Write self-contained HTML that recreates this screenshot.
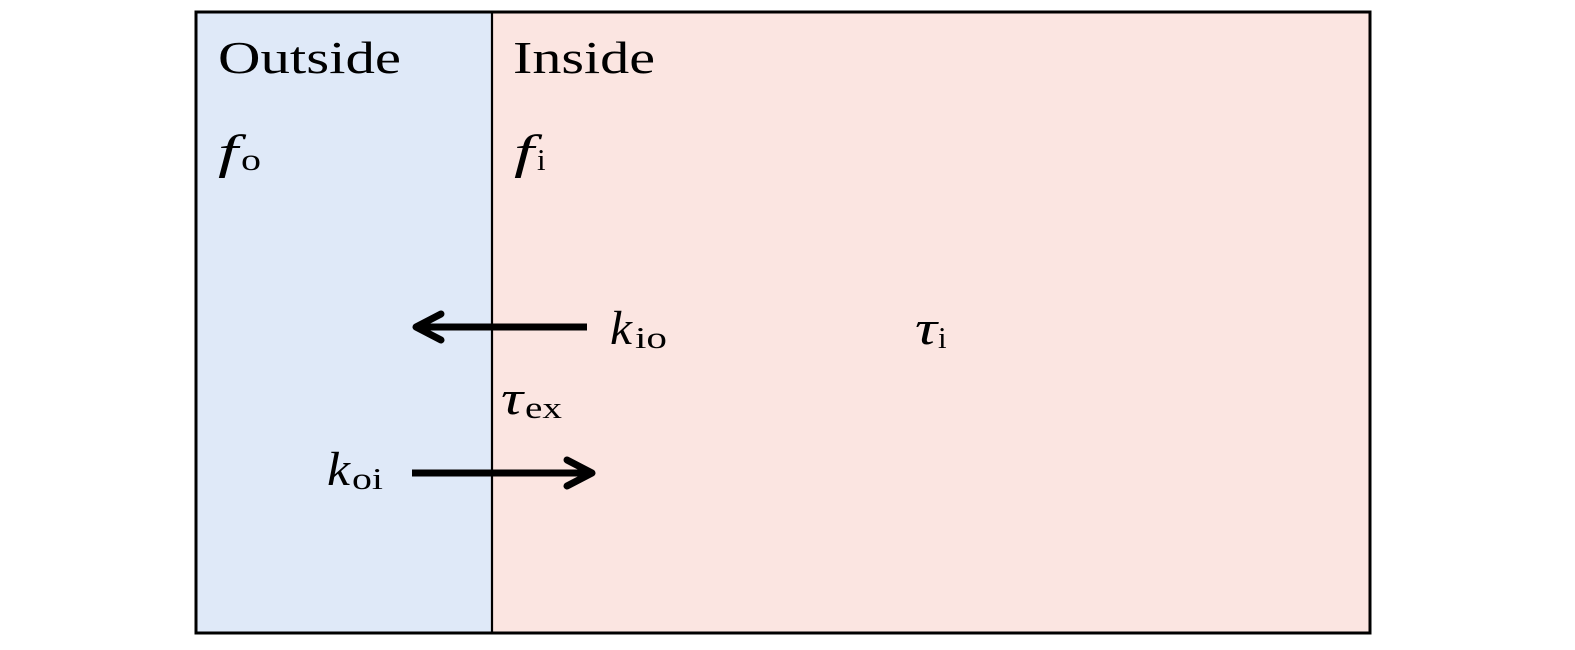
<!DOCTYPE html>
<html><head><meta charset="utf-8"><style>
html,body{margin:0;padding:0;background:#fff;}
svg{display:block;}
text{font-family:"Liberation Serif","DejaVu Serif",serif;fill:#000;}
.i{font-style:italic;}
</style></head><body>
<svg width="1575" height="650" viewBox="0 0 1575 650" xmlns="http://www.w3.org/2000/svg">
<rect x="196" y="12" width="296" height="621" fill="#dfe9f8"/>
<rect x="492" y="12" width="878" height="621" fill="#fbe5e1"/>
<rect x="196" y="12" width="1174" height="621" fill="none" stroke="#000" stroke-width="3"/>
<line x1="492" y1="12" x2="492" y2="633" stroke="#000" stroke-width="2.2"/>
<text x="218" y="73" font-size="46" textLength="183" lengthAdjust="spacingAndGlyphs">Outside</text>
<text x="513" y="73" font-size="46" textLength="142" lengthAdjust="spacingAndGlyphs">Inside</text>
<text x="218" y="168" font-size="48" class="i" textLength="20" lengthAdjust="spacingAndGlyphs">f</text><text x="241" y="170" font-size="31" textLength="20" lengthAdjust="spacingAndGlyphs">o</text>
<text x="514" y="168" font-size="48" class="i" textLength="20" lengthAdjust="spacingAndGlyphs">f</text><text x="537" y="170" font-size="31">i</text>
<line x1="587" y1="327" x2="420" y2="327" stroke="#000" stroke-width="7"/>
<polyline points="441,314 416,327 441,340" fill="none" stroke="#000" stroke-width="7" stroke-linecap="round" stroke-linejoin="round"/>
<line x1="412" y1="473" x2="588" y2="473" stroke="#000" stroke-width="7"/>
<polyline points="567,460 592,473 567,486" fill="none" stroke="#000" stroke-width="7" stroke-linecap="round" stroke-linejoin="round"/>
<text x="610" y="344" font-size="48" class="i" textLength="22" lengthAdjust="spacingAndGlyphs">k</text><text x="635" y="348" font-size="31" textLength="32" lengthAdjust="spacingAndGlyphs">io</text>
<text x="915" y="344" font-size="48" class="i" textLength="22" lengthAdjust="spacingAndGlyphs">τ</text><text x="938" y="348" font-size="31">i</text>
<text x="501" y="414" font-size="48" class="i" textLength="22" lengthAdjust="spacingAndGlyphs">τ</text><text x="525" y="418" font-size="31" textLength="37" lengthAdjust="spacingAndGlyphs">ex</text>
<text x="327" y="485" font-size="48" class="i" textLength="23" lengthAdjust="spacingAndGlyphs">k</text><text x="352" y="489" font-size="31" textLength="31" lengthAdjust="spacingAndGlyphs">oi</text>
</svg>
</body></html>
